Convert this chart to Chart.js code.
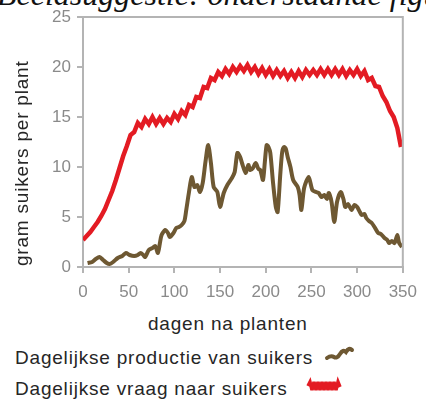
<!DOCTYPE html>
<html>
<head>
<meta charset="utf-8">
<script src="https://cdn.jsdelivr.net/npm/chart.js@4.4.1/dist/chart.umd.min.js"></script>
<style>
  body { margin: 0; width: 426px; height: 399px; background: #fff; overflow: hidden; position: relative; font-family: "Liberation Sans", Arial, sans-serif; }
  #chartBox { position: absolute; left: 0; top: 0; width: 426px; height: 300px; }
  .txt { position: absolute; white-space: nowrap; color: #262626; font-size: 19px; line-height: 19px; letter-spacing: 0.8px; }
  .topTitle { position: absolute; left: -3px; top: -22px; white-space: nowrap; font-family: "Liberation Serif", serif; font-style: italic; font-size: 32px; line-height: 32px; color: #111; }
  .yTitle { left: 12px; top: 266px; transform-origin: left top; transform: rotate(-90deg); }
  .legIcon { position: absolute; }
</style>
</head>
<body>
<div class="topTitle">Beeldsuggestie: onderstaande figuur</div>
<div id="chartBox"><canvas id="sugarChart" width="426" height="300"></canvas></div>
<div class="txt yTitle">gram suikers per plant</div>
<div class="txt" style="left:148px; top:314px;">dagen na planten</div>
<div class="txt" style="left:15px; top:348px;">Dagelijkse productie van suikers</div>
<div class="txt" style="left:15px; top:379px;">Dagelijkse vraag naar suikers</div>
<svg class="legIcon" style="left:324px; top:344px;" width="32" height="18">
  <path d="M3,14 Q7,11 10,13 T16,10 T22,8 Q25,3 28,6" fill="none" stroke="#6e5832" stroke-width="4" stroke-linecap="round"/>
</svg>
<svg class="legIcon" style="left:305px; top:376px;" width="40" height="20">
  <polyline points="3,10 5,6 7,14 9,6 11,14 13,6 15,14 17,6 19,14 21,6 23,14 25,6 27,14 29,6 31,14 33,6 35,11" fill="none" stroke="#e31b23" stroke-width="3.5"/>
</svg>
<script>
document.addEventListener('DOMContentLoaded', () => {

    //x-as ticks
    let xTicks = [0, 50, 100, 150, 200, 250, 300, 350];
    let yTicks = [0, 5, 10, 15, 20, 25];

    //vraag naar suikers (rood)
    let demandDays = [0, 4, 8, 12, 16, 20, 24, 28, 32, 36, 40, 44, 48, 52, 56, 60, 64, 68, 72, 76, 80, 84, 88, 92, 96,
        100, 104, 108, 112, 116, 120, 124, 128, 132, 136, 140, 144, 148, 152, 156, 160, 164, 168, 172, 176, 180, 184, 188, 192, 196,
        200, 204, 208, 212, 216, 220, 224, 228, 232, 236, 240, 244, 248, 252, 256, 260, 264, 268, 272, 276, 280, 284, 288, 292, 296,
        300, 304, 308, 312, 316, 320, 324, 328, 332, 336, 340, 344, 348];
    let demandValues = [2.7, 3.1, 3.5, 4.0, 4.5, 5.1, 5.8, 6.7, 7.6, 8.7, 9.9, 11.1, 12.1, 13.2, 13.5, 14.4, 14.0, 14.8, 14.3, 15.0, 14.3, 14.9, 14.3, 14.9, 14.5,
        15.3, 14.8, 15.6, 15.2, 16.2, 16.0, 17.0, 16.9, 18.0, 17.9, 18.9, 18.7, 19.5, 19.1, 19.8, 19.3, 20.0, 19.5, 20.1, 19.6, 20.2, 19.5, 20.0, 19.3, 19.9,
        19.2, 19.8, 19.1, 19.7, 19.1, 19.6, 18.9, 19.5, 18.9, 19.6, 19.0, 19.7, 19.2, 19.7, 19.2, 19.8, 19.2, 19.8, 19.2, 19.8, 19.2, 19.8, 19.1, 19.7, 19.2,
        19.8, 19.1, 19.6, 18.7, 18.9, 18.1, 18.0, 17.1, 16.5, 15.6, 15.0, 13.9, 12.0];

    //productie van suikers (bruin)
    let productionDays = [5, 10, 14, 18, 22, 26, 29, 33, 38, 43, 47, 51, 56, 60, 63, 66, 68, 72, 76, 79, 82, 84, 86, 90, 93, 95, 99,
        102, 105, 108, 111, 113, 116, 119, 122, 125, 128, 131, 134, 137, 140, 143, 147, 150, 154, 158, 163, 166, 169, 172, 174, 178,
        181, 183, 186, 189, 192, 194, 197, 199, 201, 203, 205, 208, 211, 213, 216, 218, 220, 222, 224, 227, 230, 235, 237, 239, 242,
        247, 251, 255, 258, 261, 264, 267, 269, 272, 275, 278, 282, 285, 287, 290, 294, 297, 300, 303, 305, 308, 310, 313, 316, 319,
        323, 326, 330, 333, 335, 338, 341, 344, 346, 349];
    let productionValues = [0.4, 0.5, 0.8, 1.0, 0.7, 0.4, 0.3, 0.5, 0.9, 1.1, 1.4, 1.2, 1.1, 1.2, 1.4, 1.2, 1.0, 1.7, 1.9, 2.1, 1.4, 2.3, 3.2, 3.7, 3.4, 3.0, 3.4,
        3.9, 4.0, 4.2, 4.6, 5.7, 7.5, 9.0, 8.0, 8.2, 7.5, 8.4, 10.5, 12.2, 10.4, 8.0, 7.5, 6.0, 7.4, 8.2, 8.9, 9.5, 11.4, 11.0, 10.4, 9.4,
        10.2, 9.7, 9.9, 10.4, 9.8, 9.7, 8.7, 10.5, 12.2, 12.0, 11.4, 8.4, 6.0, 5.5, 9.4, 11.5, 12.0, 11.8, 11.0, 10.0, 8.7, 8.0, 7.2, 5.7, 7.9,
        9.0, 7.7, 7.5, 7.4, 7.0, 7.2, 6.8, 7.4, 6.5, 4.5, 6.5, 7.5, 6.8, 6.0, 6.3, 5.7, 6.2, 6.0, 5.5, 5.2, 5.3, 4.9, 4.6, 4.4, 4.0,
        3.4, 3.3, 2.9, 2.7, 2.4, 2.6, 2.4, 3.2, 2.4, 2.0];

    let demandData = new Array();
    for (let i = 0; i < demandDays.length; i++) {
        demandData[i] = { x: demandDays[i], y: demandValues[i] };
    }
    let productionData = new Array();
    for (let i = 0; i < productionDays.length; i++) {
        productionData[i] = { x: productionDays[i], y: productionValues[i] };
    }

    let axisGray = '#b4b4b4';
    let tickGray = '#8a8a8a';

    //kader rond de grafiek (boven en rechts)
    let frame = {
        id: 'frame',
        afterDatasetsDraw(chart) {
            let a = chart.chartArea;
            let ctx = chart.ctx;
            ctx.save();
            ctx.strokeStyle = axisGray;
            ctx.lineWidth = 2;
            ctx.beginPath();
            ctx.moveTo(a.left, a.top);
            ctx.lineTo(a.right, a.top);
            ctx.lineTo(a.right, a.bottom);
            ctx.stroke();
            ctx.restore();
        }
    };

    let sugarCanvas = document.querySelector('#sugarChart').getContext('2d');
    let sugarChart = new Chart(sugarCanvas, {
        type: 'line',
        data: {
            datasets: [{
                label: 'Dagelijkse productie van suikers',
                data: productionData,
                borderColor: '#6e5832',
                borderWidth: 4,
                pointRadius: 0,
                tension: 0.25,
                fill: false
            }, {
                label: 'Dagelijkse vraag naar suikers',
                data: demandData,
                borderColor: '#e31b23',
                borderWidth: 4.5,
                pointRadius: 0,
                tension: 0,
                fill: false
            }]
        },
        options: {
            responsive: false,
            animation: false,
            devicePixelRatio: 1,
            layout: { padding: { top: 17, right: 18, left: 0, bottom: 0 } },
            plugins: { legend: { display: false }, tooltip: { enabled: false } },
            scales: {
                x: {
                    type: 'linear',
                    min: 0,
                    max: 350,
                    afterFit(scale) { scale.height = 33; },
                    afterBuildTicks(scale) { scale.ticks = xTicks.map(v => ({ value: v })); },
                    grid: { drawOnChartArea: false, drawTicks: true, tickLength: 6, color: axisGray, lineWidth: 2 },
                    border: { color: axisGray, width: 2 },
                    ticks: { color: tickGray, font: { family: 'Liberation Sans', size: 17 }, padding: 9, maxRotation: 0 }
                },
                y: {
                    min: 0,
                    max: 25,
                    afterFit(scale) { scale.width = 83; },
                    afterBuildTicks(scale) { scale.ticks = yTicks.map(v => ({ value: v })); },
                    grid: { drawOnChartArea: false, drawTicks: true, tickLength: 6, color: axisGray, lineWidth: 2 },
                    border: { color: axisGray, width: 2 },
                    ticks: { color: tickGray, font: { family: 'Liberation Sans', size: 17 }, padding: 6 }
                }
            }
        },
        plugins: [frame]
    });

})
</script>
</body>
</html>
